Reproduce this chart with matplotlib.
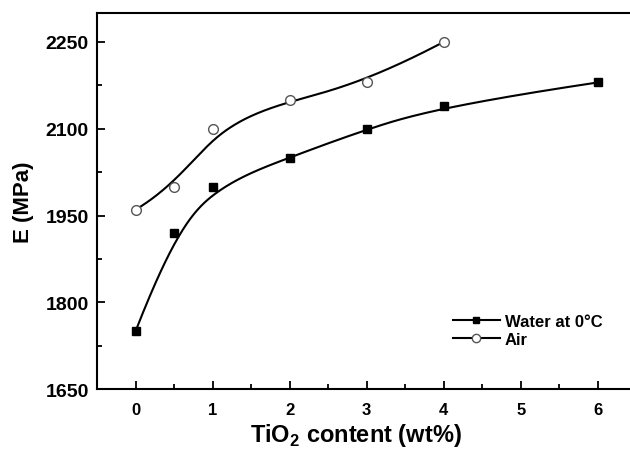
import numpy as np
import matplotlib
matplotlib.use('Agg')
import matplotlib.pyplot as plt
from matplotlib.ticker import MultipleLocator

plt.rcParams['font.family'] = ['Liberation Sans', 'DejaVu Sans']
plt.rcParams['font.weight'] = 'bold'
plt.rcParams['mathtext.fontset'] = 'custom'
plt.rcParams['mathtext.bf'] = 'Liberation Sans:bold'

# TiO2 content (wt%) and modulus E (MPa)
water_x = [0, 0.5, 1, 2, 3, 4, 6]
water_E = [1750, 1920, 2000, 2050, 2100, 2140, 2180]
air_x = [0, 0.5, 1, 2, 3, 4]
air_E = [1960, 2000, 2100, 2150, 2180, 2250]


# Clamped cubic B-spline through control points (like Origin's B-spline line)
def bspline(xs, ys, n=300):
    P = np.column_stack([xs, ys]).astype(float)
    k = 3
    m = len(P)
    inner = np.arange(1, m - k)
    knots = np.concatenate([np.zeros(k + 1), inner, np.full(k + 1, m - k)])
    t = np.linspace(0, m - k, n)
    t[-1] -= 1e-9

    def basis(i, p, t):
        if p == 0:
            return ((knots[i] <= t) & (t < knots[i + 1])).astype(float)
        a = knots[i + p] - knots[i]
        b = knots[i + p + 1] - knots[i + 1]
        left = 0 if a == 0 else (t - knots[i]) / a * basis(i, p - 1, t)
        right = 0 if b == 0 else (knots[i + p + 1] - t) / b * basis(i + 1, p - 1, t)
        return left + right

    B = np.array([basis(i, k, t) for i in range(m)])
    C = B.T @ P
    return C[:, 0], C[:, 1]


fig = plt.figure(figsize=(6.3, 4.52), dpi=100)
ax = fig.add_axes([0.154, 0.137, 0.856, 0.832])

wx, wy = bspline(water_x, water_E)
ax.plot(wx, wy, color='black', lw=1.5, zorder=2)
ax.plot(water_x, water_E, 's', color='black', ms=6, zorder=3)

axx, ayy = bspline(air_x, air_E)
ax.plot(axx, ayy, color='black', lw=1.5, zorder=2)
ax.plot(air_x, air_E, 'o', mfc='white', mec='#555555', mew=1.0, ms=7, zorder=3)

# legend handles
ax.plot([], [], '-s', color='black', lw=1.5, ms=5, label='Water at 0°C')
ax.plot([], [], '-o', color='black', lw=1.5, mfc='white', mec='#555555', ms=6, label='Air')
h, l = ax.get_legend_handles_labels()
ax.legend(h[-2:], l[-2:], frameon=False, loc='upper left', bbox_to_anchor=(0.632, 0.24),
          handlelength=2.8, handletextpad=0.3, labelspacing=0.2,
          prop={'weight': 'bold', 'size': 12})

ax.set_xlim(-0.5, 6.5)
ax.set_ylim(1650, 2300)
ax.xaxis.set_major_locator(MultipleLocator(1))
ax.xaxis.set_minor_locator(MultipleLocator(0.5))
ax.yaxis.set_major_locator(MultipleLocator(150))
ax.yaxis.set_minor_locator(MultipleLocator(75))
ax.tick_params(which='both', direction='in', width=1.3)
ax.tick_params(which='major', length=6)
ax.tick_params(which='minor', length=3.5)
ax.tick_params(axis='x', pad=9, labelsize=12)
ax.tick_params(axis='y', pad=6, labelsize=14)
for s in ax.spines.values():
    s.set_linewidth(1.5)

ax.set_xlabel('TiO$_\\mathbf{2}$ content (wt%)', fontsize=17, fontweight='bold', labelpad=1)
ax.xaxis.set_label_coords(0.48, -0.085)
ax.set_ylabel('E (MPa)', fontsize=16, fontweight='bold', labelpad=8)

fig.savefig('out.png', dpi=100)
